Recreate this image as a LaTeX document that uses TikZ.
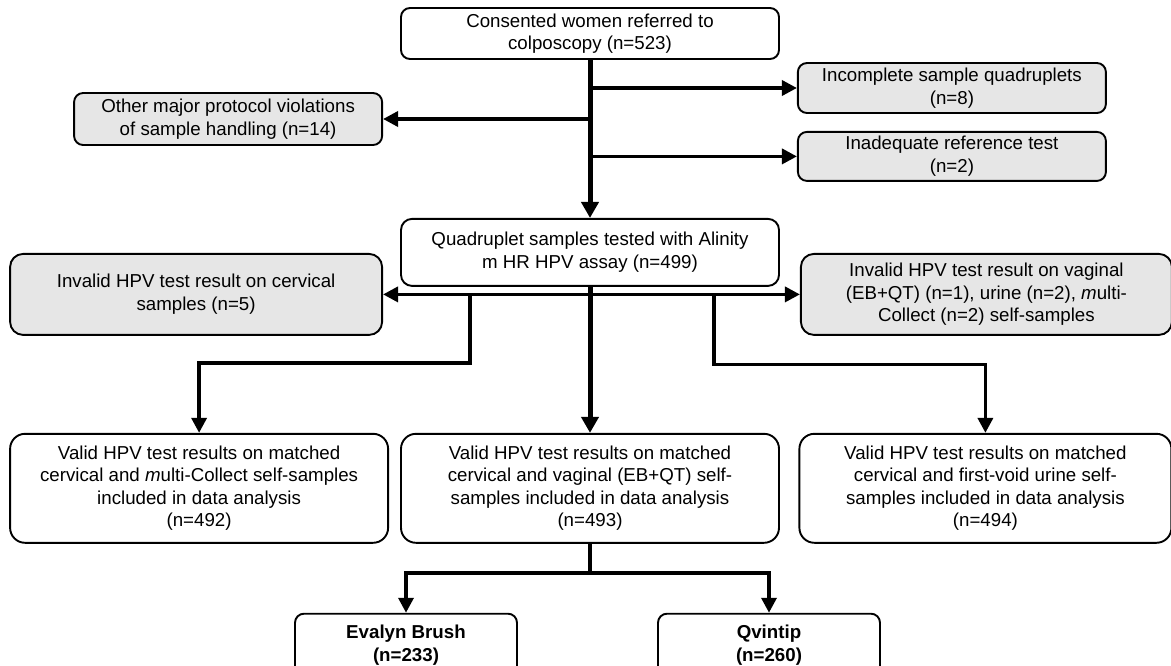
\documentclass[tikz,border=0pt]{standalone}
\usepackage{fontspec}
\setmainfont{Liberation Sans}
\usepackage{xcolor}
\usepackage{tikz}
\usetikzlibrary{arrows.meta, positioning, calc}
\definecolor{boxgrey}{HTML}{E6E6E6}
\tikzset{
  whitebox/.style={rectangle, rounded corners=9pt, draw=black, line width=1.9pt, fill=white, align=center, inner sep=2pt, font=\fontsize{18.7}{22.5}\selectfont},
  greybox/.style={whitebox, fill=boxgrey},
  mainline/.style={-{Triangle[length=16pt, width=17pt]}, line width=5pt},
  sideline/.style={-{Triangle[length=15pt, width=15pt]}, line width=3.5pt},
}

\begin{document}
\begin{tikzpicture}[x=1pt, y=-1pt]
\useasboundingbox (0,0) rectangle (1171,665);
\clip (0,0) rectangle (1171,665);
\node[whitebox, minimum width=378pt, minimum height=51pt] (start) at (590,33.5) {Consented women referred to\\colposcopy (n=523)};
\node[greybox, minimum width=308pt, minimum height=50pt, right=17pt of start, yshift=-54.5pt] (incomplete) {Incomplete sample quadruplets\\(n=8)};
\node[greybox, minimum width=308pt, minimum height=49pt, below=17pt of incomplete] (inadequate) {Inadequate reference test\\(n=2)};
\node[greybox, minimum width=308pt, minimum height=52pt, left=17pt of start, yshift=-85.5pt] (other) {Other major protocol violations\\of sample handling (n=14)};
\node[whitebox, rounded corners=11pt, minimum width=378pt, minimum height=67pt, below=158pt of start] (quad) {Quadruplet samples tested with Alinity\\m HR HPV assay (n=499)};
\node[greybox, rounded corners=13pt, minimum width=372pt, minimum height=81pt, left=17pt of quad, yshift=-42pt] (cervical) {Invalid HPV test result on cervical\\samples (n=5)};
\node[greybox, rounded corners=13pt, minimum width=371pt, minimum height=81pt, right=20pt of quad, yshift=-42pt] (vaginal) {Invalid HPV test result on vaginal\\(EB+QT) (n=1), urine (n=2), \textit{m}ulti-\\Collect (n=2) self-samples};
\node[whitebox, rounded corners=15pt, minimum width=378pt, minimum height=109pt, below=146pt of quad] (validM) {Valid HPV test results on matched\\cervical and vaginal (EB+QT) self-\\samples included in data analysis\\(n=493)};
\node[whitebox, rounded corners=15pt, minimum width=378pt, minimum height=109pt, left=11pt of validM] (validL) {Valid HPV test results on matched\\cervical and \textit{m}ulti-Collect self-samples\\included in data analysis\\(n=492)};
\node[whitebox, rounded corners=15pt, minimum width=372pt, minimum height=109pt, right=18.5pt of validM] (validR) {Valid HPV test results on matched\\cervical and first-void urine self-\\samples included in data analysis\\(n=494)};
\node[whitebox, minimum width=222pt, minimum height=63pt, below=69pt of validM, xshift=-184pt] (evalyn) {\textbf{Evalyn Brush}\\\textbf{(n=233)}};
\node[whitebox, minimum width=222pt, minimum height=63pt, below=69pt of validM, xshift=179pt] (qvintip) {\textbf{Qvintip}\\\textbf{(n=260)}};

\draw[mainline] (start) -- (quad);
\draw[sideline] (start.south |- incomplete.west) -- (incomplete.west);
\draw[sideline] (start.south |- other.east) -- (other.east);
\draw[sideline] (start.south |- inadequate.west) -- (inadequate.west);

\draw[sideline, {Triangle[length=15pt, width=15pt]}-{Triangle[length=15pt, width=15pt]}] (cervical.east) -- (vaginal.west);
\coordinate (forkL) at ([xshift=87pt]cervical.east);
\coordinate (forkR) at ([xshift=-86pt]vaginal.west);
\draw[mainline] (quad) -- (validM);
\draw[sideline] (forkL) -- ++(0,68.5) -| (validL.north);
\draw[sideline] (forkR) -- ++(0,70) -| (validR.north);

\draw[sideline, -] (validM.south) -- ++(0,29) coordinate (forkB);
\draw[sideline] (forkB) -| (evalyn.north);
\draw[sideline] (forkB) -| (qvintip.north);
\end{tikzpicture}
\end{document}
